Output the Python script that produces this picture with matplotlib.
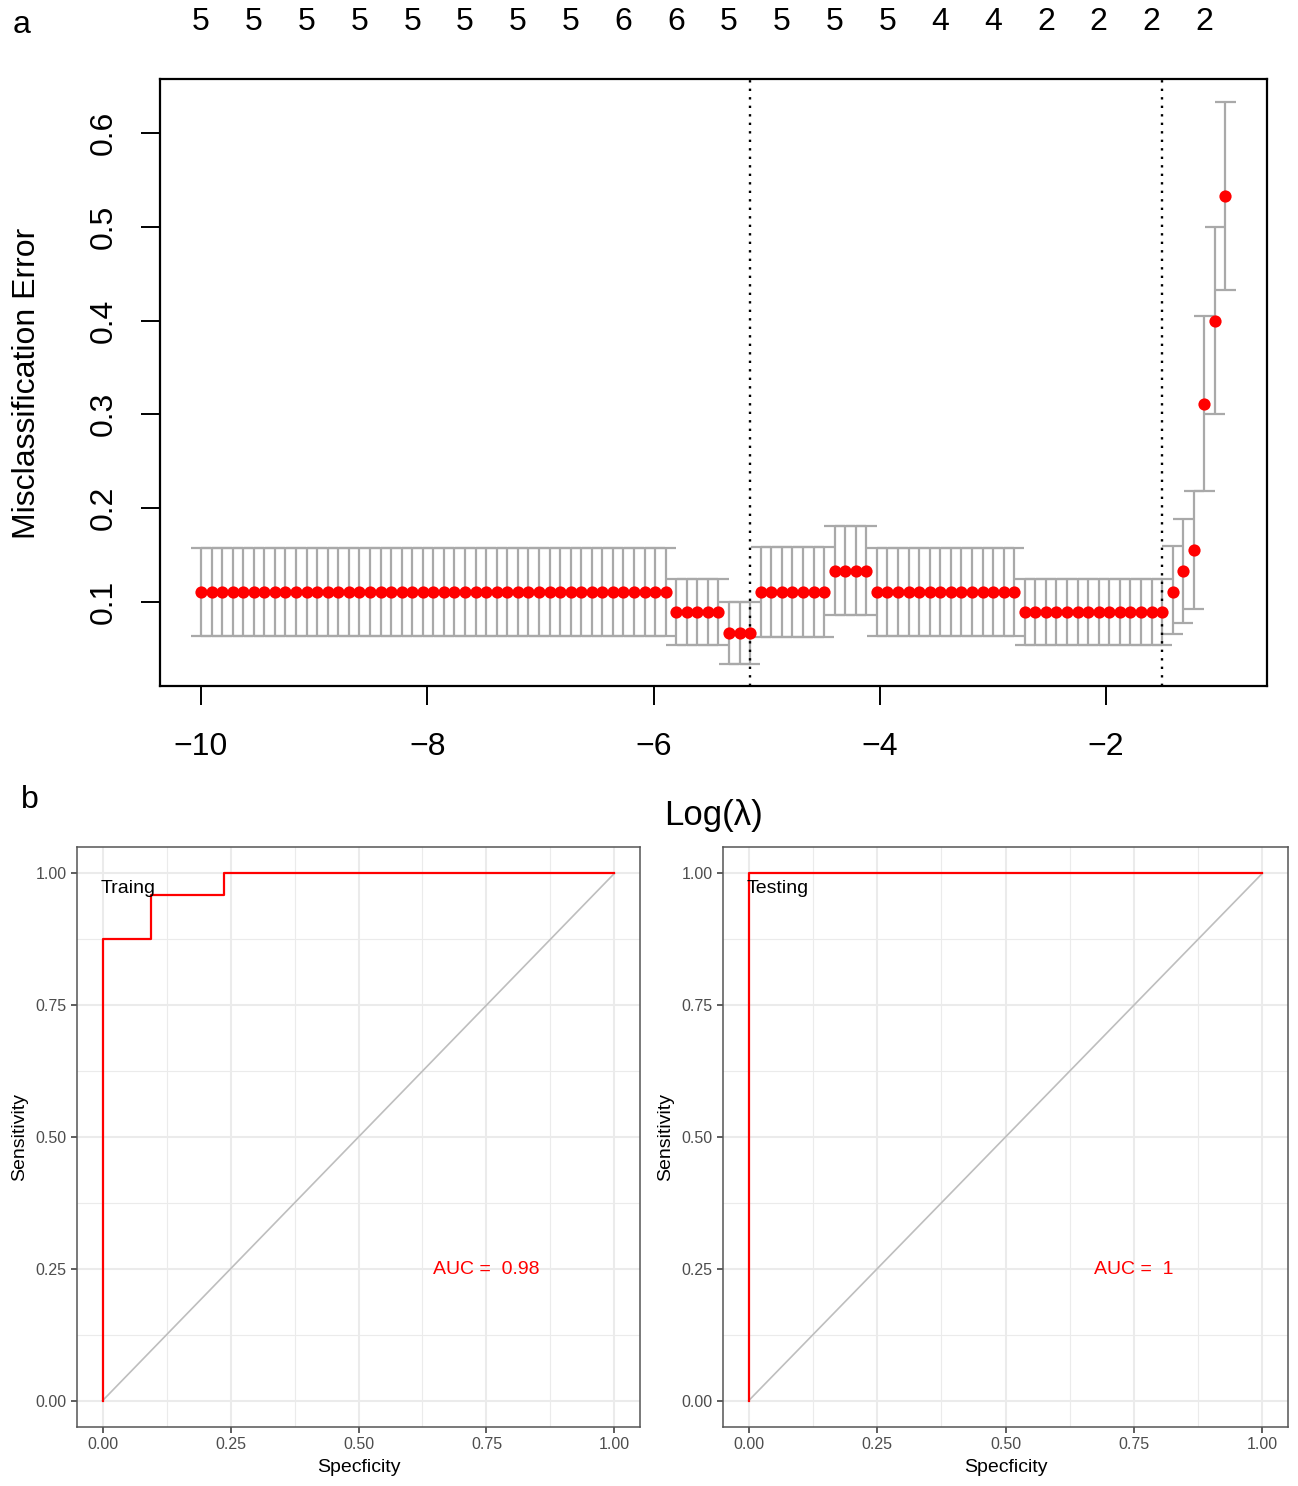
import numpy as np
import matplotlib
matplotlib.use("Agg")
import matplotlib.pyplot as plt
from matplotlib.transforms import blended_transform_factory

plt.rcParams['font.family'] = ['Liberation Sans', 'DejaVu Sans']

# ---------------- data: panel a (cv.glmnet) ----------------
log_lambda = np.linspace(-10.0, -0.945, 98)
cv_error = ([0.1111] * 45 + [0.0889] * 5 + [0.0667] * 3 + [0.1111] * 7 +
            [0.1333] * 4 + [0.1111] * 14 + [0.0889] * 14 +
            [0.1111, 0.1333, 0.1556, 0.3111, 0.4000, 0.5333])
cv_upper = ([0.158] * 45 + [0.124] * 5 + [0.100] * 3 + [0.159] * 7 +
            [0.181] * 4 + [0.158] * 14 + [0.124] * 14 +
            [0.160, 0.188, 0.218, 0.405, 0.500, 0.633])
cv_lower = ([0.064] * 45 + [0.054] * 5 + [0.034] * 3 + [0.063] * 7 +
            [0.086] * 4 + [0.064] * 14 + [0.054] * 14 +
            [0.066, 0.078, 0.092, 0.218, 0.300, 0.433])
nz_labels = [5, 5, 5, 5, 5, 5, 5, 5, 6, 6, 5, 5, 5, 5, 4, 4, 2, 2, 2, 2]
lambda_min_idx = 52
lambda_1se_idx = 91
x_ticks_a = [-10, -8, -6, -4, -2]
y_ticks_a = [0.1, 0.2, 0.3, 0.4, 0.5, 0.6]

# ---------------- data: panel b (ROC) ----------------
train_x = [0.0, 0.0, 0.0952, 0.0952, 0.2381, 0.2381, 1.0]
train_y = [0.0, 0.875, 0.875, 0.9583, 0.9583, 1.0, 1.0]
test_x = [0.0, 0.0, 1.0]
test_y = [0.0, 1.0, 1.0]
roc_ticks = [0.00, 0.25, 0.50, 0.75, 1.00]
roc_tick_labels = ["0.00", "0.25", "0.50", "0.75", "1.00"]
minor_ticks = [0.125, 0.375, 0.625, 0.875]

W, H = 1298, 1486
fig = plt.figure(figsize=(W / 100, H / 100), dpi=100)


def px_axes(x0, y0, x1, y1):
    return fig.add_axes([x0 / W, 1 - y1 / H, (x1 - x0) / W, (y1 - y0) / H])


# ---------------- panel a ----------------
ax = px_axes(160, 79, 1267, 686)
x = np.asarray(log_lambda)
up = np.asarray(cv_upper)
lo = np.asarray(cv_lower)
barw = 0.01 * (x.max() - x.min())
grey = '#A9A9A9'
ax.vlines(x, lo, up, color=grey, lw=1.6, zorder=1)
ax.hlines(up, x - barw, x + barw, color=grey, lw=1.6, zorder=1)
ax.hlines(lo, x - barw, x + barw, color=grey, lw=1.6, zorder=1)
ax.plot(x, cv_error, 'o', color='red', markersize=8.8, markeredgewidth=0, zorder=3)
for idx in (lambda_min_idx, lambda_1se_idx):
    ax.axvline(x[idx], color='black', lw=1.7, linestyle=(0, (1, 2.6)), zorder=2)

ax.set_xlim(-10.362, -0.578)
ax.set_ylim(0.0104, 0.6575)
ax.set_xticks(x_ticks_a)
ax.set_xticklabels(["\u221210", "\u22128", "\u22126", "\u22124", "\u22122"])
ax.set_yticks(y_ticks_a)
ax.set_yticklabels(["0.1", "0.2", "0.3", "0.4", "0.5", "0.6"], rotation=90, va='center')
ax.tick_params(axis='both', labelsize=23, length=14, width=1.4, color='black')
ax.tick_params(axis='x', pad=19)
ax.tick_params(axis='y', pad=16)
for s in ax.spines.values():
    s.set_linewidth(1.6)
    s.set_color('black')
fig.text(27 / W, 1 - 383 / H, "Misclassification Error", rotation=90,
         ha='center', va='center', fontsize=23)

trans = blended_transform_factory(ax.transData, fig.transFigure)
for xi, lab in zip(x[::5], nz_labels):
    ax.text(xi, 1 - 22 / H, str(lab), transform=trans, ha='center', va='center',
            fontsize=23, clip_on=False)

fig.text(713 / W, 1 - 815 / H, "Log(\u03bb)", ha='center', va='center', fontsize=25)
fig.text(22 / W, 1 - 25 / H, "a", ha='center', va='center', fontsize=23)
fig.text(30 / W, 1 - 800 / H, "b", ha='center', va='center', fontsize=23)


# ---------------- panel b ----------------
def roc_panel(axr, xs, ys, label, auc_text):
    axr.set_xlim(-0.05, 1.05)
    axr.set_ylim(-0.05, 1.05)
    axr.set_xticks(roc_ticks)
    axr.set_xticklabels(roc_tick_labels)
    axr.set_yticks(roc_ticks)
    axr.set_yticklabels(roc_tick_labels)
    for t in minor_ticks:
        axr.axvline(t, color='#EBEBEB', lw=0.8, zorder=0)
        axr.axhline(t, color='#EBEBEB', lw=0.8, zorder=0)
    for t in roc_ticks:
        axr.axvline(t, color='#EBEBEB', lw=1.5, zorder=0)
        axr.axhline(t, color='#EBEBEB', lw=1.5, zorder=0)
    axr.plot([0, 1], [0, 1], color='#BEBEBE', lw=1.2, zorder=2)
    axr.plot(xs, ys, color='red', lw=1.6, zorder=3)
    axr.text(-0.004, 0.972, label, ha='left', va='center', fontsize=14, color='black')
    axr.text(0.75, 0.248, auc_text, ha='center', va='center', fontsize=14, color='red')
    axr.tick_params(axis='both', labelsize=11.5, length=4, width=1.1,
                    color='#333333', labelcolor='#4D4D4D', pad=3.5)
    for s in axr.spines.values():
        s.set_linewidth(1.1)
        s.set_color('#555555')
    axr.set_xlabel("Specficity", fontsize=14, labelpad=4.5)
    axr.set_ylabel("Sensitivity", fontsize=14, labelpad=5)


ax1 = px_axes(77, 847, 640, 1427)
roc_panel(ax1, train_x, train_y, "Traing", "AUC =  0.98")
ax2 = px_axes(723, 847, 1288, 1427)
roc_panel(ax2, test_x, test_y, "Testing", "AUC =  1")

fig.savefig("out.png", dpi=100)
